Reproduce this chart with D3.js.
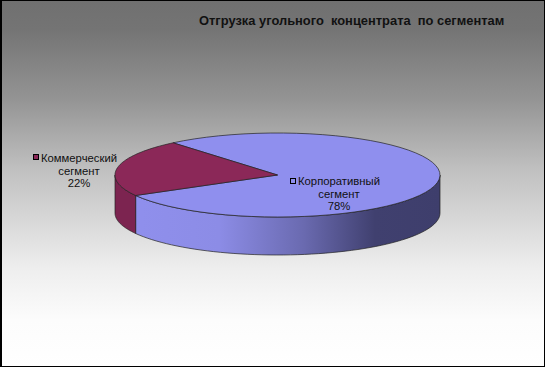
<!DOCTYPE html>
<html>
<head>
<meta charset="utf-8">
<script src="https://cdn.jsdelivr.net/npm/d3@7"></script>
<style>
  html, body { margin: 0; padding: 0; background: #fff; }
  svg { display: block; }
  text { font-family: "Liberation Sans", Arial, sans-serif; fill: #111; }
</style>
</head>
<body>
<script>
// chart data
const segments = ['Корпоративный', 'Коммерческий'];
const segmentLines = [['Корпоративный', 'сегмент', '78%'], ['Коммерческий', 'сегмент', '22%']];
const shares = [78, 22];
const segmentColors = ['#8f8fee', '#8b2858'];
const title = 'Отгрузка угольного  концентрата  по сегментам';

const SCREEN = { width: 546, height: 368 };
const PIE = { left: 115, right: 440, top: 133, bottom: 217, depth: 38 };

const svg = d3.select('body').append('svg')
    .attr('width', SCREEN.width)
    .attr('height', SCREEN.height);

const defs = svg.append('defs');

const bg = defs.append('linearGradient').attr('id', 'bg')
    .attr('x1', 0).attr('y1', 0).attr('x2', 0).attr('y2', 1);
bg.append('stop').attr('offset', '0%').attr('stop-color', '#707070');
bg.append('stop').attr('offset', '8%').attr('stop-color', '#747474');
bg.append('stop').attr('offset', '27%').attr('stop-color', '#949494');
bg.append('stop').attr('offset', '46%').attr('stop-color', '#c0c0c0');
bg.append('stop').attr('offset', '73%').attr('stop-color', '#eeeeee');
bg.append('stop').attr('offset', '87%').attr('stop-color', '#fcfcfc');
bg.append('stop').attr('offset', '100%').attr('stop-color', '#ffffff');

// side wall shading runs across the whole pie width
const side = defs.append('linearGradient').attr('id', 'side')
    .attr('gradientUnits', 'userSpaceOnUse')
    .attr('x1', PIE.left).attr('y1', 0).attr('x2', PIE.right).attr('y2', 0);
side.append('stop').attr('offset', '0%').attr('stop-color', '#9090ee');
side.append('stop').attr('offset', '32%').attr('stop-color', '#8c8ce6');
side.append('stop').attr('offset', '58%').attr('stop-color', '#6a6ab0');
side.append('stop').attr('offset', '80%').attr('stop-color', '#40406f');
side.append('stop').attr('offset', '100%').attr('stop-color', '#3e3e6c');

svg.append('rect')
    .attr('width', SCREEN.width).attr('height', SCREEN.height)
    .attr('fill', 'url(#bg)');
svg.append('rect')
    .attr('x', 0.5).attr('y', 0.5)
    .attr('width', SCREEN.width - 2).attr('height', SCREEN.height - 2)
    .attr('fill', 'none').attr('stroke', '#000');
svg.append('rect')
    .attr('x', SCREEN.width - 1).attr('width', 1).attr('height', SCREEN.height)
    .attr('fill', '#fff');
svg.append('rect')
    .attr('y', SCREEN.height - 1).attr('width', SCREEN.width).attr('height', 1)
    .attr('fill', '#fff');
svg.append('rect')
    .attr('x', 1).attr('width', 1).attr('height', SCREEN.height - 1)
    .attr('fill', '#000');

svg.append('text')
    .attr('x', 199).attr('y', 24.5)
    .style('font-size', '12.9px').style('font-weight', 'bold')
    .style('white-space', 'pre')
    .text(title);

// unit circle -> squashed ellipse on screen
const xScale = d3.scaleLinear().domain([-1, 1]).range([PIE.left, PIE.right]);
const yScale = d3.scaleLinear().domain([-1, 1]).range([PIE.top, PIE.bottom]);

const startAngle = -40 * Math.PI / 180;
const arcs = d3.pie().sort(null)
    .startAngle(startAngle)
    .endAngle(startAngle + 2 * Math.PI)(shares);

const px = a => xScale(Math.sin(a));
const py = a => yScale(-Math.cos(a));
const range = (a, b) => d3.range(0, 61).map(i => a + (b - a) * i / 60);

const rimLine = d3.line().x(px).y(py);

// front wall is only visible between 90 and 270 degrees
const frontFrom = Math.PI / 2, frontTo = 3 * Math.PI / 2;
const sides = svg.append('g').attr('stroke', '#222').attr('stroke-width', 0.7);
arcs.forEach((d, i) => {
  const a = Math.max(d.startAngle, frontFrom);
  const b = Math.min(d.endAngle, frontTo);
  if (a >= b) return;
  const upper = range(a, b);
  const lowerPts = upper.slice().reverse().map(t => [px(t), py(t) + PIE.depth]);
  const path = rimLine(upper) + 'L' + lowerPts.map(p => p.join(',')).join('L') + 'Z';
  sides.append('path')
      .attr('d', path)
      .attr('fill', i === 0 ? 'url(#side)' : '#7c2450');
});

const tops = svg.append('g').attr('stroke', '#222').attr('stroke-width', 0.7);
arcs.forEach((d, i) => {
  tops.append('path')
      .attr('d', 'M' + xScale(0) + ',' + yScale(0) + 'L' + rimLine(range(d.startAngle, d.endAngle)).slice(1) + 'Z')
      .attr('fill', segmentColors[i]);
});

// data labels with their legend keys
const labelPos = [{ cx: 339, y: 185, key: [290, 178] }, { cx: 79, y: 162, key: [33, 154] }];
const labels = svg.append('g');
segments.forEach((name, i) => {
  const p = labelPos[i];
  labels.append('rect')
      .attr('x', p.key[0] + 0.5).attr('y', p.key[1] + 0.5)
      .attr('width', 5).attr('height', 5)
      .attr('fill', segmentColors[i]).attr('stroke', '#000');
  segmentLines[i].forEach((line, j) => {
    labels.append('text')
        .attr('x', p.cx).attr('y', p.y + j * 12.5)
        .attr('text-anchor', 'middle')
        .style('font-size', '11.3px')
        .text(line);
  });
});
</script>
</body>
</html>
